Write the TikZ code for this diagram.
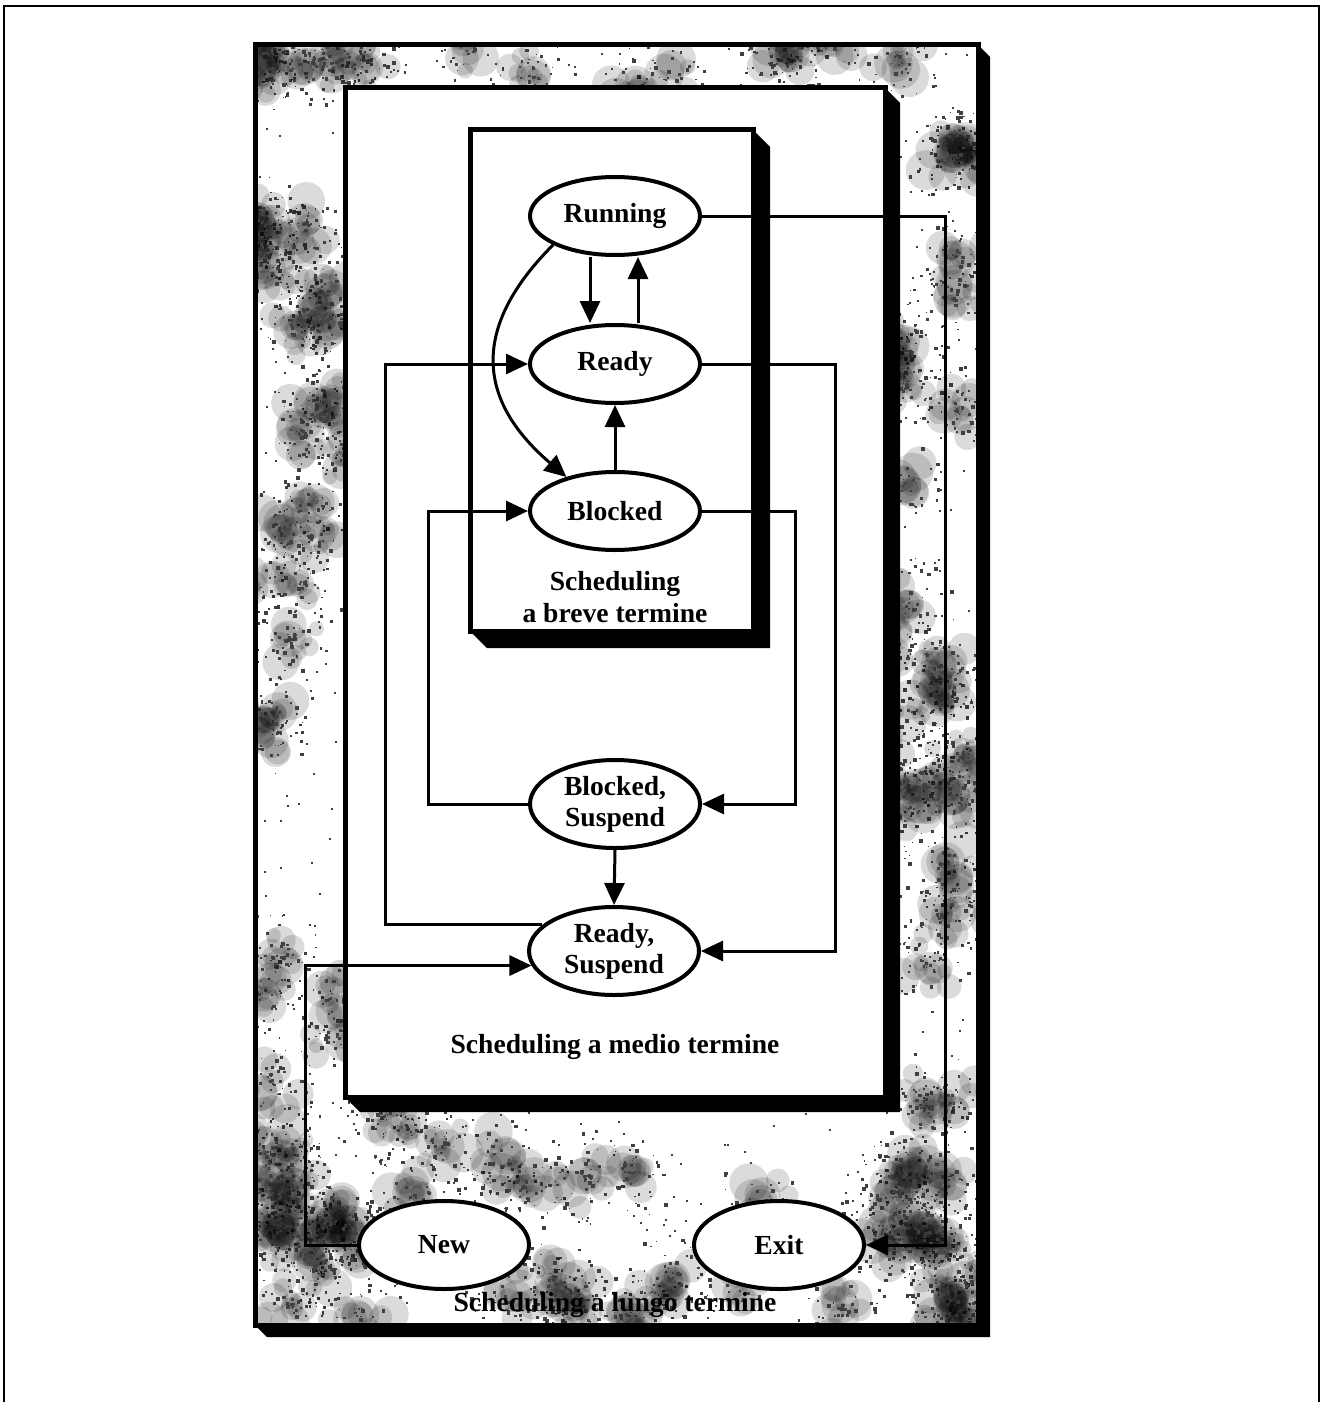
\documentclass[tikz,border=0pt]{standalone}
\usepackage{fontspec}
\setmainfont{Liberation Serif}
\usetikzlibrary{shapes.geometric,arrows.meta,calc}
\tikzset{
  state/.style={ellipse, draw, line width=2pt, fill=white, minimum width=85pt, minimum height=39pt, inner sep=0pt, align=center, font=\fontsize{13.8}{15.5}\selectfont\bfseries},
  state2/.style={state, minimum height=44pt},
  lbl/.style={align=center, inner sep=0pt, font=\fontsize{13.8}{16}\selectfont\bfseries},
  conn/.style={line width=1.5pt},
  arr/.style={conn, -{Triangle[length=11pt,width=10pt]}},
  boxline/.style={draw, line width=2.5pt},
  speck/.style={fill=black!75},
  blot/.style={fill=black, fill opacity=0.14},
}
\newcommand\mottleAt[2]{%
  \foreach \k in {1,...,10}{
    \pgfmathsetmacro\r{rnd*32}
    \pgfmathsetmacro\a{rnd*360}
    \pgfmathsetmacro\s{7+rnd*13}
    \fill[blot] ($(#1,#2)+(\a:\r)$) circle[radius=\s];
  }
  \foreach \k in {1,...,45}{
    \pgfmathsetmacro\r{rnd*48}
    \pgfmathsetmacro\a{rnd*360}
    \pgfmathsetmacro\s{1+rnd*3}
    \fill[speck] ($(#1,#2)+(\a:\r)$) rectangle +(\s,\s);
  }%
}
\begin{document}
\begin{tikzpicture}[x=0.5pt,y=-0.5pt]
\useasboundingbox (0,0) rectangle (1323,1402);
% outer frame
\draw[line width=1pt] (4,1410) -- (4,6) -- (1319,6) -- (1319,1410);
% long-term box
\fill (978,45) -- (990,57) -- (990,1337) -- (267,1337) -- (255,1325) -- (978,1325) -- cycle;
\begin{scope}
\clip (255,45) rectangle (978,1325);
\fill[white] (255,45) rectangle (978,1325);
\pgfmathsetseed{11}
% mottled texture in the visible border zone
\foreach \c in {1,...,38}{
  \pgfmathsetmacro\cx{250+rnd*100}\pgfmathsetmacro\cy{45+rnd*1280}
  \mottleAt{\cx}{\cy}
}
\foreach \c in {1,...,38}{
  \pgfmathsetmacro\cx{880+rnd*100}\pgfmathsetmacro\cy{45+rnd*1280}
  \mottleAt{\cx}{\cy}
}
\foreach \c in {1,...,12}{
  \pgfmathsetmacro\cx{255+rnd*723}\pgfmathsetmacro\cy{40+rnd*50}
  \mottleAt{\cx}{\cy}
}
\foreach \c in {1,...,34}{
  \pgfmathsetmacro\cx{255+rnd*723}\pgfmathsetmacro\cy{1100+rnd*225}
  \mottleAt{\cx}{\cy}
}
% scattered specks
\foreach \k in {1,...,900}{
  \pgfmathsetmacro\bx{255+rnd*723}
  \pgfmathsetmacro\by{45+rnd*1280}
  \fill[speck] (\bx,\by) rectangle +(2,2);
}
\end{scope}
\draw[boxline] (255,45) rectangle (978,1325);
% medium-term box
\fill (885,88) -- (900,103) -- (900,1112) -- (360,1112) -- (345,1097) -- (885,1097) -- cycle;
\draw[boxline, fill=white] (345,88) rectangle (885,1097);
% short-term box
\fill (753,130) -- (770,147) -- (770,648) -- (487,648) -- (470,631) -- (753,631) -- cycle;
\draw[boxline, fill=white] (470,130) rectangle (753,631);

% routing columns
\coordinate (colE) at (945,0);
\coordinate (colA) at (835,0);
\coordinate (colC) at (795,0);
\coordinate (colD) at (428,0);
\coordinate (colB) at (385,0);
\coordinate (colN) at (305,0);

% states
\node[state] (Running) at (615,216) {Running};
\node[state] (Ready) at (615,364) {Ready};
\node[state] (Blocked) at (615,511) {Blocked};
\node[state2] (BS) at (615,804) {Blocked,\\Suspend};
\node[state2] (RS) at (614,951) {Ready,\\Suspend};
\node[state2] (New) at (444,1245) {New};
\node[state2] (Exit) at (779,1245) {Exit};

% labels
\node[lbl] (lblShort) at (615,597) {Scheduling\\a breve termine};
\node[lbl] (lblMed) at (615,1047) {Scheduling a medio termine};
\node[lbl] (lblLong) at (615,1305) {Scheduling a lungo termine};

% connectors
\draw[arr] ($(Running.south)+(-25,0)$) -- ($(Ready.north)+(-25,0)$);
\draw[arr] ($(Ready.north)+(23,0)$) -- ($(Running.south)+(23,0)$);
\draw[arr] (Blocked.north) -- (Ready.south);
\draw[arr] (Running.205) .. controls +(-100,100) and +(-70,-60) .. (Blocked.145);
\draw[arr] (Running.east) -- (colE |- Running.east) -- (colE |- Exit.east) -- (Exit.east);
\draw[arr] (Ready.east) -- (colA |- Ready.east) -- (colA |- RS.east) -- (RS.east);
\draw[arr] (Blocked.east) -- (colC |- Blocked.east) -- (colC |- BS.east) -- (BS.east);
\draw[arr] (BS.west) -- (colD |- BS.west) -- (colD |- Blocked.west) -- (Blocked.west);
\draw[arr] (RS.160) -- (colB |- RS.160) -- (colB |- Ready.west) -- (Ready.west);
\draw[arr] (BS.south) -- (RS.north);
\draw[arr] (New.west) -- (colN |- New.west) -- (colN |- RS.190) -- (RS.190);
\end{tikzpicture}
\end{document}
